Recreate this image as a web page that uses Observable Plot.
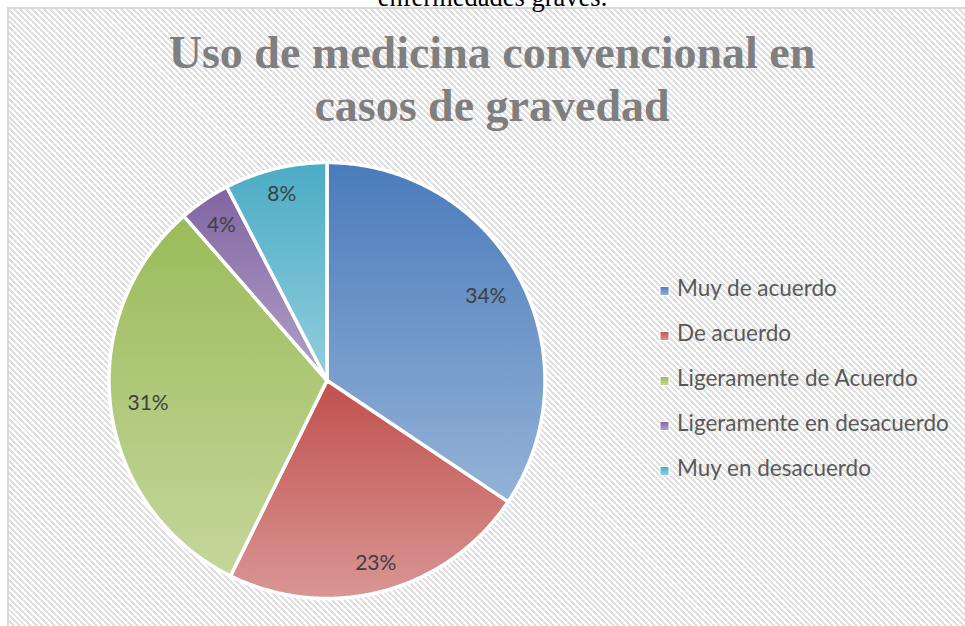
<!DOCTYPE html>
<html>
<head>
<meta charset="utf-8">
<script src="https://cdn.jsdelivr.net/npm/d3@7"></script>
<script src="https://cdn.jsdelivr.net/npm/@observablehq/plot@0.6"></script>
<style>
  html, body { margin: 0; padding: 0; width: 965px; height: 626px; overflow: hidden; background: #fff; }
  #frame {
    position: absolute; left: 7px; top: 7px; width: 1000px; height: 700px;
    border-left: 2px solid #d9d9d9; border-top: 2px solid #d9d9d9;
    background: repeating-linear-gradient(45deg, #ffffff 0px, #ffffff 2.1px, #e0e0e0 2.1px, #e0e0e0 4.2px);
    z-index: 0;
  }
  #chart { position: absolute; left: 0; top: 0; z-index: 1; }
  #overlay { position: absolute; left: 0; top: 0; z-index: 2; pointer-events: none; }
</style>
</head>
<body>
<div id="frame"></div>
<div id="chart"></div>
<svg id="overlay" width="965" height="626"></svg>
<script>
// ---- data ----
const categories = ["Muy de acuerdo", "De acuerdo", "Ligeramente de Acuerdo", "Ligeramente en desacuerdo", "Muy en desacuerdo"];
const values = [34.4, 22.9, 31.3, 3.8, 7.6];
const labels = ["34%", "23%", "31%", "4%", "8%"];
const caption = "enfermedades graves.";
const titleLines = ["Uso de medicina convencional en", "casos de gravedad"];

// ---- style ----
const gradTop = ["#4a7bbb", "#c0504d", "#9bbb59", "#8064a2", "#4bacc6"];
const gradBottom = ["#95b3d7", "#d99694", "#c4d79c", "#b3a2c7", "#93cddd"];
const R = 218;            // pie radius in px
const CX = 326.5, CY = 380;
const W = 965, H = 626;

// ---- geometry from data ----
const arcs = d3.pie().sort(null).value(d => d)(values);
const slices = arcs.map((p, i) => {
  const n = Math.max(2, Math.ceil((p.endAngle - p.startAngle) / (Math.PI / 360)));
  const ring = [[0, 0]];
  for (let k = 0; k <= n; k++) {
    const a = p.startAngle + (p.endAngle - p.startAngle) * k / n;
    ring.push([Math.sin(a), -Math.cos(a)]);
  }
  ring.push([0, 0]);
  return {type: "Feature", properties: {category: categories[i], fill: `url(#grad${i})`},
          geometry: {type: "Polygon", coordinates: [ring]}};
});
const labelData = arcs.map((p, i) => {
  const a = (p.startAngle + p.endAngle) / 2;
  const hw = labels[i].length * 7, hh = 8;
  const off = (15.7 + hw * Math.abs(Math.sin(a)) + hh * Math.abs(Math.cos(a))) / R;
  const r = 1 - off;
  return {label: labels[i], x: r * Math.sin(a), y: -r * Math.cos(a)};
});

const defsMark = () => {
  const defs = d3.create("svg:defs");
  gradTop.forEach((c, i) => {
    const lg = defs.append("linearGradient").attr("id", `grad${i}`)
      .attr("x1", 0).attr("y1", 0).attr("x2", 0).attr("y2", 1);
    lg.append("stop").attr("offset", 0).attr("stop-color", c);
    lg.append("stop").attr("offset", 1).attr("stop-color", gradBottom[i]);
  });
  return defs.node();
};

const pad = 3;
const chart = Plot.plot({
  width: W, height: H,
  marginLeft: CX - R - pad, marginTop: CY - R - pad,
  marginRight: W - (CX + R + pad), marginBottom: H - (CY + R + pad),
  projection: {type: "identity", inset: pad, domain: {type: "MultiPoint", coordinates: [[-1, -1], [1, 1]]}},
  color: {type: "identity"},
  style: {background: "transparent", overflow: "visible"},
  marks: [
    defsMark,
    Plot.geo(slices, {fill: d => d.properties.fill, stroke: "white", strokeWidth: 3.5, strokeLinejoin: "round"}),
    Plot.text(labelData, {x: "x", y: "y", text: "label", fill: "#404040",
      fontFamily: "Lato, 'Open Sans', sans-serif", fontSize: 21})
  ]
});
document.getElementById("chart").appendChild(chart);

// ---- titles & legend (overlay) ----
const ov = d3.select("#overlay");
const odefs = ov.append("defs");
gradTop.forEach((c, i) => {
  const lg = odefs.append("linearGradient").attr("id", `lgrad${i}`)
    .attr("x1", 0).attr("y1", 0).attr("x2", 0).attr("y2", 1);
  lg.append("stop").attr("offset", 0).attr("stop-color", c);
  lg.append("stop").attr("offset", 1).attr("stop-color", gradBottom[i]);
});
ov.append("text").attr("x", 492.5).attr("y", 5.5).attr("text-anchor", "middle")
  .attr("font-family", "'Liberation Serif', 'Times New Roman', serif").attr("font-size", 26.5)
  .attr("fill", "#000").text(caption);
titleLines.forEach((t, i) => {
  ov.append("text").attr("x", 492).attr("y", 68 + i * 53).attr("text-anchor", "middle")
    .attr("font-family", "'Liberation Serif', 'Times New Roman', serif").attr("font-weight", "bold")
    .attr("font-size", 46).attr("fill", "#7f7f7f").text(t);
});
categories.forEach((c, i) => {
  const y = 296 + i * 45;
  ov.append("rect").attr("x", 660).attr("y", y - 9.5).attr("width", 9).attr("height", 9)
    .attr("fill", `url(#lgrad${i})`).attr("stroke", "white").attr("stroke-width", 1);
  ov.append("text").attr("x", 677).attr("y", y)
    .attr("font-family", "Lato, 'Open Sans', sans-serif").attr("font-size", 22.5)
    .attr("fill", "#595959").text(c);
});
</script>
</body>
</html>
